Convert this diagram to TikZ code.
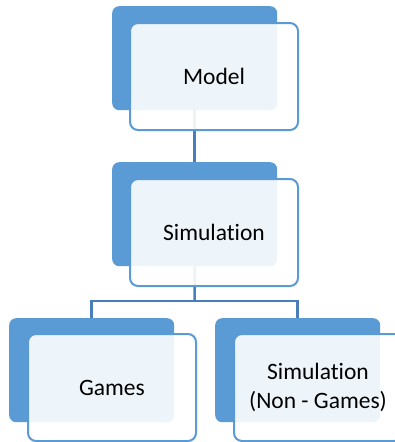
\documentclass[tikz,border=0pt]{standalone}
\usepackage{fontspec}
\setmainfont[RawFeature={-liga}]{Carlito}
\definecolor{accent}{HTML}{5B9BD5}
\definecolor{linkblue}{HTML}{4A7EBB}
\begin{document}
\begin{tikzpicture}[x=1pt,y=-1pt,
  backcard/.style={rectangle, rounded corners=7pt, fill=accent, draw=none,
    minimum width=165pt, minimum height=104pt, inner sep=0pt, anchor=north west},
  frontcard/.style={rectangle, rounded corners=8pt, draw=accent, line width=2pt,
    fill=white, fill opacity=0.9, text opacity=1,
    minimum width=168pt, minimum height=107pt, inner sep=0pt, anchor=north west,
    align=center, font=\fontsize{23.5}{28.5}\selectfont},
  link/.style={draw=linkblue, line width=2.5pt}]
\useasboundingbox (0,0) rectangle (395,442);
\fill[white] (0,0) rectangle (395,442);

% back cards
\node[backcard] (mback) at (112,6) {};
\node[backcard] (sback) at (112,162) {};
\node[backcard] (gback) at (9,318) {};
\node[backcard] (nback) at (215,318) {};

% connectors (behind the front cards)
\coordinate (split) at (194.5,301);
\draw[link] (mback.south) -- (sback.north);
\draw[link] (sback.south) -- (split);
\draw[link] (gback.north) |- (split) -| (nback.north);

% front cards with labels
\node[frontcard] (model) at (129,22) {Model};
\node[frontcard] (sim) at (129,178) {Simulation};
\node[frontcard] (games) at (27,333) {Games};
\node[frontcard] (nongames) at (233,333) {Simulation\\(Non - Games)};
\end{tikzpicture}
\end{document}
